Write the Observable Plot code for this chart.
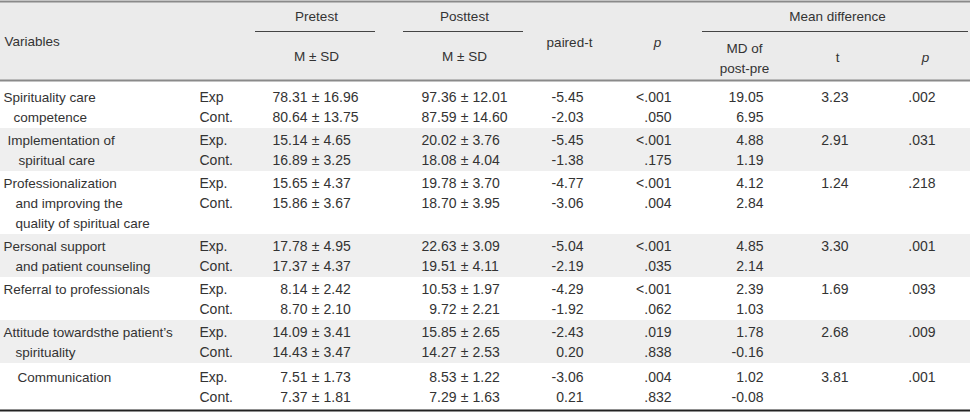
<!DOCTYPE html>
<html>
<head>
<meta charset="utf-8">
<script src="https://cdn.jsdelivr.net/npm/d3@7"></script>
<script src="https://cdn.jsdelivr.net/npm/@observablehq/plot@0.6"></script>
<style>
  html, body { margin: 0; padding: 0; background: #fff; }
  #chart svg { display: block; }
</style>
</head>
<body>
<div id="chart"></div>
<script>
// ---------- DATA ----------
const variables = [
  ["Spirituality care", "competence"],
  ["Implementation of", "spiritual care"],
  ["Professionalization", "and improving the", "quality of spiritual care"],
  ["Personal support", "and patient counseling"],
  ["Referral to professionals"],
  ["Attitude towardsthe patient\u2019s", "spirituality"],
  ["Communication"]
];
const groupExp  = ["Exp", "Exp.", "Exp.", "Exp.", "Exp.", "Exp.", "Exp."];
const groupCont = ["Cont.", "Cont.", "Cont.", "Cont.", "Cont.", "Cont.", "Cont."];

const preMeanExp  = [78.31, 15.14, 15.65, 17.78, 8.14, 14.09, 7.51];
const preSdExp    = [16.96, 4.65, 4.37, 4.95, 2.42, 3.41, 1.73];
const preMeanCont = [80.64, 16.89, 15.86, 17.37, 8.70, 14.43, 7.37];
const preSdCont   = [13.75, 3.25, 3.67, 4.37, 2.10, 3.47, 1.81];

const postMeanExp  = [97.36, 20.02, 19.78, 22.63, 10.53, 15.85, 8.53];
const postSdExp    = [12.01, 3.76, 3.70, 3.09, 1.97, 2.65, 1.22];
const postMeanCont = [87.59, 18.08, 18.70, 19.51, 9.72, 14.27, 7.29];
const postSdCont   = [14.60, 4.04, 3.95, 4.11, 2.21, 2.53, 1.63];

const pairedTExp  = [-5.45, -5.45, -4.77, -5.04, -4.29, -2.43, -3.06];
const pairedTCont = [-2.03, -1.38, -3.06, -2.19, -1.92, 0.20, 0.21];
const pExp  = ["<.001", "<.001", "<.001", "<.001", "<.001", ".019", ".004"];
const pCont = [".050", ".175", ".004", ".035", ".062", ".838", ".832"];

const mdExp  = [19.05, 4.88, 4.12, 4.85, 2.39, 1.78, 1.02];
const mdCont = [6.95, 1.19, 2.84, 2.14, 1.03, -0.16, -0.08];
const tDiff  = [3.23, 2.91, 1.24, 3.30, 1.69, 2.68, 3.81];
const pDiff  = [".002", ".031", ".218", ".001", ".093", ".009", ".001"];

const headerTop = ["Pretest", "Posttest", "Mean difference"];
const headerSub = ["M \u00b1 SD", "M \u00b1 SD"];
const headerMid = ["Variables", "paired-t", "p", "t", "p"];
const headerMd  = ["MD of", "post-pre"];

// ---------- LAYOUT (positions & styles) ----------
const W = 970, H = 412;
const font = "'Liberation Sans', Arial, sans-serif";
const ink = "#333";
const labelSize = 13.5, numSize = 14;
const lineH = 20;
const firstLine0 = 97;
const rowPad = 3;
const varIndent = [[3, 13], [7, 18], [3, 15, 15], [3, 15], [3], [3, 15], [17]];
const col = {
  group: 199,
  preMeanEnd: 307, prePm: 315, preSdStart: 323,
  postMeanEnd: 456, postPm: 464, postSdStart: 472,
  pairedEnd: 583, pEnd: 671, mdEnd: 763, tEnd: 848, p2End: 935
};
const f2 = v => v.toFixed(2);

// compute row line positions
const rows = [];
let y0 = firstLine0;
variables.forEach((v, i) => {
  const n = Math.max(v.length, 2);
  const extra = i === variables.length - 1 ? 2 : 0;
  rows.push({i, first: y0 + extra, n, top: y0 - 12, bottom: y0 - 12 + n * lineH + rowPad});
  y0 += n * lineH + rowPad;
});

// body text items
const labels = [], nums = [];
rows.forEach(r => {
  const i = r.i, a = r.first, b = r.first + lineH;
  variables[i].forEach((t, k) => labels.push({x: varIndent[i][k], y: a + k * lineH, text: t, anchor: "start"}));
  nums.push({x: col.group, y: a, text: groupExp[i], anchor: "start"});
  nums.push({x: col.group, y: b, text: groupCont[i], anchor: "start"});
  [[a, preMeanExp[i], preSdExp[i], postMeanExp[i], postSdExp[i]],
   [b, preMeanCont[i], preSdCont[i], postMeanCont[i], postSdCont[i]]].forEach(([yy, m1, s1, m2, s2]) => {
    nums.push({x: col.preMeanEnd, y: yy, text: f2(m1), anchor: "end"});
    nums.push({x: col.prePm, y: yy, text: "\u00b1", anchor: "middle"});
    nums.push({x: col.preSdStart, y: yy, text: f2(s1), anchor: "start"});
    nums.push({x: col.postMeanEnd, y: yy, text: f2(m2), anchor: "end"});
    nums.push({x: col.postPm, y: yy, text: "\u00b1", anchor: "middle"});
    nums.push({x: col.postSdStart, y: yy, text: f2(s2), anchor: "start"});
  });
  nums.push({x: col.pairedEnd, y: a, text: f2(pairedTExp[i]), anchor: "end"});
  nums.push({x: col.pairedEnd, y: b, text: f2(pairedTCont[i]), anchor: "end"});
  nums.push({x: col.pEnd, y: a, text: pExp[i], anchor: "end"});
  nums.push({x: col.pEnd, y: b, text: pCont[i], anchor: "end"});
  nums.push({x: col.mdEnd, y: a, text: f2(mdExp[i]), anchor: "end"});
  nums.push({x: col.mdEnd, y: b, text: f2(mdCont[i]), anchor: "end"});
  nums.push({x: col.tEnd, y: a, text: f2(tDiff[i]), anchor: "end"});
  nums.push({x: col.p2End, y: a, text: pDiff[i], anchor: "end"});
});

// header text items
const head = [
  {x: 4,   y: 41, text: headerMid[0], anchor: "start", style: "normal"},
  {x: 316, y: 16, text: headerTop[0], anchor: "middle", style: "normal"},
  {x: 464, y: 16, text: headerTop[1], anchor: "middle", style: "normal"},
  {x: 837, y: 16, text: headerTop[2], anchor: "middle", style: "normal"},
  {x: 316, y: 56, text: headerSub[0], anchor: "middle", style: "normal"},
  {x: 464, y: 56, text: headerSub[1], anchor: "middle", style: "normal"},
  {x: 569, y: 42, text: headerMid[1], anchor: "middle", style: "normal"},
  {x: 657, y: 42, text: headerMid[2], anchor: "middle", style: "italic"},
  {x: 744, y: 48, text: headerMd[0], anchor: "middle", style: "normal"},
  {x: 744, y: 68, text: headerMd[1], anchor: "middle", style: "normal"},
  {x: 837, y: 57, text: headerMid[3], anchor: "middle", style: "normal"},
  {x: 925, y: 57, text: headerMid[4], anchor: "middle", style: "italic"}
];

const bands = rows.filter(r => r.i % 2 === 1);
const underlines = [{x1: 255, x2: 375}, {x1: 403, x2: 523}, {x1: 702, x2: 968}];

const textMark = (data, anchor, size, style) => Plot.text(
  data.filter(d => d.anchor === anchor && (style ? d.style === style : true)), {
  x: "x", y: "y", text: "text", textAnchor: anchor, lineAnchor: "middle",
  fill: ink, fontSize: size, fontStyle: style || "normal"
});

const plot = Plot.plot({
  width: W, height: H, margin: 0,
  x: {type: "linear", domain: [0, W], range: [0, W], axis: null},
  y: {type: "linear", domain: [0, H], range: [0, H], axis: null},
  style: {fontFamily: font, fontSize: "14px", background: "#fff", color: ink},
  marks: [
    Plot.rect([{y1: 1, y2: 80}], {x1: 0, x2: W, y1: "y1", y2: "y2", fill: "#ebebeb"}),
    Plot.rect(bands, {x1: 0, x2: W, y1: "top", y2: "bottom", fill: "#efefef"}),
    Plot.ruleY([1], {stroke: "#8a8a8a", strokeWidth: 2}),
    Plot.ruleY([80], {stroke: "#8a8a8a", strokeWidth: 2}),
    Plot.ruleY([410], {stroke: "#222", strokeWidth: 2}),
    Plot.ruleY(underlines, {y: 31, x1: "x1", x2: "x2", stroke: "#444", strokeWidth: 1}),
    textMark(head, "start", labelSize, "normal"),
    textMark(head, "middle", labelSize, "normal"),
    textMark(head, "middle", labelSize, "italic"),
    textMark(labels, "start", labelSize),
    textMark(nums, "start", numSize),
    textMark(nums, "middle", numSize),
    textMark(nums, "end", numSize)
  ]
});
document.getElementById("chart").appendChild(plot);
</script>
</body>
</html>
